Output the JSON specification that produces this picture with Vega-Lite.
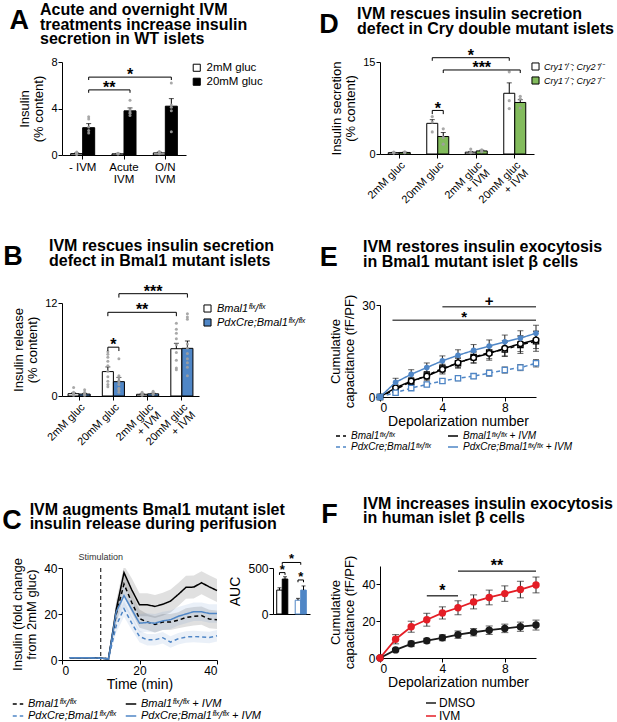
{
"$schema": "https://vega.github.io/schema/vega-lite/v6.json",
"background": "white",
"padding": {"left": 2, "top": 2, "right": 0, "bottom": 0},
"config": {
  "font": "Liberation Sans",
  "view": {"stroke": null},
  "axis": {"grid": false, "domainColor": "#000", "tickColor": "#000", "labelColor": "#000", "titleColor": "#000", "labelFont": "Liberation Sans", "titleFont": "Liberation Sans", "labelFontSize": 11, "titleFontSize": 13, "titleFontWeight": "normal", "tickSize": 4, "labelPadding": 1, "titlePadding": 5, "titleLineHeight": 14},
  "legend": {"labelFont": "Liberation Sans", "labelFontSize": 11, "labelColor": "#000"},
  "title": {"font": "Liberation Sans", "fontSize": 16, "fontWeight": "bold", "color": "#000", "anchor": "start", "lineHeight": 14.5},
  "text": {"font": "Liberation Sans"}
},
"datasets": {
  "aBars": [
    {"cond":"- IVM","grp":"2mM gluc","mean":0.12,"hi":0.18},
    {"cond":"- IVM","grp":"20mM gluc","mean":2.35,"hi":2.7},
    {"cond":"Acute|IVM","grp":"2mM gluc","mean":0.1,"hi":0.14},
    {"cond":"Acute|IVM","grp":"20mM gluc","mean":3.8,"hi":4.05},
    {"cond":"O/N|IVM","grp":"2mM gluc","mean":0.18,"hi":0.25},
    {"cond":"O/N|IVM","grp":"20mM gluc","mean":4.2,"hi":4.85}
  ],
  "aDots": [
    {"cond":"- IVM","grp":"2mM gluc","v":0.05},{"cond":"- IVM","grp":"2mM gluc","v":0.1},{"cond":"- IVM","grp":"2mM gluc","v":0.15},{"cond":"- IVM","grp":"2mM gluc","v":0.2},{"cond":"- IVM","grp":"2mM gluc","v":0.25},
    {"cond":"- IVM","grp":"20mM gluc","v":3.3},{"cond":"- IVM","grp":"20mM gluc","v":3.1},{"cond":"- IVM","grp":"20mM gluc","v":2.4},{"cond":"- IVM","grp":"20mM gluc","v":2.1},{"cond":"- IVM","grp":"20mM gluc","v":1.9},
    {"cond":"Acute|IVM","grp":"2mM gluc","v":0.08},{"cond":"Acute|IVM","grp":"2mM gluc","v":0.1},{"cond":"Acute|IVM","grp":"2mM gluc","v":0.12},{"cond":"Acute|IVM","grp":"2mM gluc","v":0.14},
    {"cond":"Acute|IVM","grp":"20mM gluc","v":4.7},{"cond":"Acute|IVM","grp":"20mM gluc","v":3.9},{"cond":"Acute|IVM","grp":"20mM gluc","v":3.7},{"cond":"Acute|IVM","grp":"20mM gluc","v":3.6},{"cond":"Acute|IVM","grp":"20mM gluc","v":3.4},
    {"cond":"O/N|IVM","grp":"2mM gluc","v":0.1},{"cond":"O/N|IVM","grp":"2mM gluc","v":0.15},{"cond":"O/N|IVM","grp":"2mM gluc","v":0.2},{"cond":"O/N|IVM","grp":"2mM gluc","v":0.3},
    {"cond":"O/N|IVM","grp":"20mM gluc","v":6.2},{"cond":"O/N|IVM","grp":"20mM gluc","v":4.3},{"cond":"O/N|IVM","grp":"20mM gluc","v":4.1},{"cond":"O/N|IVM","grp":"20mM gluc","v":3.8},{"cond":"O/N|IVM","grp":"20mM gluc","v":2.0}
  ],
  "aSig": [
    {"id":"s1","cond":"- IVM","grp":"20mM gluc","y":5.35,"ord":0},{"id":"s1","cond":"- IVM","grp":"20mM gluc","y":5.6,"ord":1},{"id":"s1","cond":"Acute|IVM","grp":"20mM gluc","y":5.6,"ord":2},{"id":"s1","cond":"Acute|IVM","grp":"20mM gluc","y":5.35,"ord":3},
    {"id":"s2","cond":"- IVM","grp":"20mM gluc","y":6.45,"ord":0},{"id":"s2","cond":"- IVM","grp":"20mM gluc","y":6.7,"ord":1},{"id":"s2","cond":"O/N|IVM","grp":"20mM gluc","y":6.7,"ord":2},{"id":"s2","cond":"O/N|IVM","grp":"20mM gluc","y":6.45,"ord":3}
  ],
  "aStarOff": [{"cond":"Acute|IVM","grp":"20mM gluc","y":6.45,"label":"*"}],
  "aStarBand": [{"cond":"Acute|IVM","y":5.35,"label":"**"}],
  "bBars": [
    {"cond":"2mM gluc","grp":"Bmal1ᶠˡˣ/ᶠˡˣ","mean":0.3,"hi":0.4},
    {"cond":"2mM gluc","grp":"PdxCre;Bmal1ᶠˡˣ/ᶠˡˣ","mean":0.25,"hi":0.33},
    {"cond":"20mM gluc","grp":"Bmal1ᶠˡˣ/ᶠˡˣ","mean":3.15,"hi":3.75},
    {"cond":"20mM gluc","grp":"PdxCre;Bmal1ᶠˡˣ/ᶠˡˣ","mean":1.85,"hi":2.4},
    {"cond":"2mM gluc|+ IVM","grp":"Bmal1ᶠˡˣ/ᶠˡˣ","mean":0.22,"hi":0.28},
    {"cond":"2mM gluc|+ IVM","grp":"PdxCre;Bmal1ᶠˡˣ/ᶠˡˣ","mean":0.28,"hi":0.36},
    {"cond":"20mM gluc|+ IVM","grp":"Bmal1ᶠˡˣ/ᶠˡˣ","mean":6.1,"hi":6.8},
    {"cond":"20mM gluc|+ IVM","grp":"PdxCre;Bmal1ᶠˡˣ/ᶠˡˣ","mean":6.15,"hi":7.1}
  ],
  "bDots": [
    {"cond":"2mM gluc","grp":"Bmal1ᶠˡˣ/ᶠˡˣ","v":1.1},{"cond":"2mM gluc","grp":"Bmal1ᶠˡˣ/ᶠˡˣ","v":0.5},{"cond":"2mM gluc","grp":"Bmal1ᶠˡˣ/ᶠˡˣ","v":0.4},{"cond":"2mM gluc","grp":"Bmal1ᶠˡˣ/ᶠˡˣ","v":0.3},{"cond":"2mM gluc","grp":"Bmal1ᶠˡˣ/ᶠˡˣ","v":0.2},{"cond":"2mM gluc","grp":"Bmal1ᶠˡˣ/ᶠˡˣ","v":0.1},
    {"cond":"2mM gluc","grp":"PdxCre;Bmal1ᶠˡˣ/ᶠˡˣ","v":0.8},{"cond":"2mM gluc","grp":"PdxCre;Bmal1ᶠˡˣ/ᶠˡˣ","v":0.5},{"cond":"2mM gluc","grp":"PdxCre;Bmal1ᶠˡˣ/ᶠˡˣ","v":0.3},{"cond":"2mM gluc","grp":"PdxCre;Bmal1ᶠˡˣ/ᶠˡˣ","v":0.2},{"cond":"2mM gluc","grp":"PdxCre;Bmal1ᶠˡˣ/ᶠˡˣ","v":0.1},
    {"cond":"20mM gluc","grp":"Bmal1ᶠˡˣ/ᶠˡˣ","v":5.7},{"cond":"20mM gluc","grp":"Bmal1ᶠˡˣ/ᶠˡˣ","v":5.4},{"cond":"20mM gluc","grp":"Bmal1ᶠˡˣ/ᶠˡˣ","v":5.0},{"cond":"20mM gluc","grp":"Bmal1ᶠˡˣ/ᶠˡˣ","v":4.5},{"cond":"20mM gluc","grp":"Bmal1ᶠˡˣ/ᶠˡˣ","v":3.9},{"cond":"20mM gluc","grp":"Bmal1ᶠˡˣ/ᶠˡˣ","v":3.2},{"cond":"20mM gluc","grp":"Bmal1ᶠˡˣ/ᶠˡˣ","v":2.5},{"cond":"20mM gluc","grp":"Bmal1ᶠˡˣ/ᶠˡˣ","v":1.9},{"cond":"20mM gluc","grp":"Bmal1ᶠˡˣ/ᶠˡˣ","v":1.5},{"cond":"20mM gluc","grp":"Bmal1ᶠˡˣ/ᶠˡˣ","v":1.2},
    {"cond":"20mM gluc","grp":"PdxCre;Bmal1ᶠˡˣ/ᶠˡˣ","v":4.8},{"cond":"20mM gluc","grp":"PdxCre;Bmal1ᶠˡˣ/ᶠˡˣ","v":2.6},{"cond":"20mM gluc","grp":"PdxCre;Bmal1ᶠˡˣ/ᶠˡˣ","v":2.4},{"cond":"20mM gluc","grp":"PdxCre;Bmal1ᶠˡˣ/ᶠˡˣ","v":2.0},{"cond":"20mM gluc","grp":"PdxCre;Bmal1ᶠˡˣ/ᶠˡˣ","v":1.8},{"cond":"20mM gluc","grp":"PdxCre;Bmal1ᶠˡˣ/ᶠˡˣ","v":1.5},{"cond":"20mM gluc","grp":"PdxCre;Bmal1ᶠˡˣ/ᶠˡˣ","v":1.0},{"cond":"20mM gluc","grp":"PdxCre;Bmal1ᶠˡˣ/ᶠˡˣ","v":0.8},{"cond":"20mM gluc","grp":"PdxCre;Bmal1ᶠˡˣ/ᶠˡˣ","v":0.5},
    {"cond":"2mM gluc|+ IVM","grp":"Bmal1ᶠˡˣ/ᶠˡˣ","v":0.5},{"cond":"2mM gluc|+ IVM","grp":"Bmal1ᶠˡˣ/ᶠˡˣ","v":0.3},{"cond":"2mM gluc|+ IVM","grp":"Bmal1ᶠˡˣ/ᶠˡˣ","v":0.2},{"cond":"2mM gluc|+ IVM","grp":"Bmal1ᶠˡˣ/ᶠˡˣ","v":0.1},
    {"cond":"2mM gluc|+ IVM","grp":"PdxCre;Bmal1ᶠˡˣ/ᶠˡˣ","v":0.6},{"cond":"2mM gluc|+ IVM","grp":"PdxCre;Bmal1ᶠˡˣ/ᶠˡˣ","v":0.4},{"cond":"2mM gluc|+ IVM","grp":"PdxCre;Bmal1ᶠˡˣ/ᶠˡˣ","v":0.3},{"cond":"2mM gluc|+ IVM","grp":"PdxCre;Bmal1ᶠˡˣ/ᶠˡˣ","v":0.2},
    {"cond":"20mM gluc|+ IVM","grp":"Bmal1ᶠˡˣ/ᶠˡˣ","v":9.4},{"cond":"20mM gluc|+ IVM","grp":"Bmal1ᶠˡˣ/ᶠˡˣ","v":8.6},{"cond":"20mM gluc|+ IVM","grp":"Bmal1ᶠˡˣ/ᶠˡˣ","v":8.1},{"cond":"20mM gluc|+ IVM","grp":"Bmal1ᶠˡˣ/ᶠˡˣ","v":7.4},{"cond":"20mM gluc|+ IVM","grp":"Bmal1ᶠˡˣ/ᶠˡˣ","v":6.6},{"cond":"20mM gluc|+ IVM","grp":"Bmal1ᶠˡˣ/ᶠˡˣ","v":5.6},{"cond":"20mM gluc|+ IVM","grp":"Bmal1ᶠˡˣ/ᶠˡˣ","v":4.6},{"cond":"20mM gluc|+ IVM","grp":"Bmal1ᶠˡˣ/ᶠˡˣ","v":3.6},{"cond":"20mM gluc|+ IVM","grp":"Bmal1ᶠˡˣ/ᶠˡˣ","v":3.4},
    {"cond":"20mM gluc|+ IVM","grp":"PdxCre;Bmal1ᶠˡˣ/ᶠˡˣ","v":10.6},{"cond":"20mM gluc|+ IVM","grp":"PdxCre;Bmal1ᶠˡˣ/ᶠˡˣ","v":10.2},{"cond":"20mM gluc|+ IVM","grp":"PdxCre;Bmal1ᶠˡˣ/ᶠˡˣ","v":9.9},{"cond":"20mM gluc|+ IVM","grp":"PdxCre;Bmal1ᶠˡˣ/ᶠˡˣ","v":6.7},{"cond":"20mM gluc|+ IVM","grp":"PdxCre;Bmal1ᶠˡˣ/ᶠˡˣ","v":6.2},{"cond":"20mM gluc|+ IVM","grp":"PdxCre;Bmal1ᶠˡˣ/ᶠˡˣ","v":5.5},{"cond":"20mM gluc|+ IVM","grp":"PdxCre;Bmal1ᶠˡˣ/ᶠˡˣ","v":4.8},{"cond":"20mM gluc|+ IVM","grp":"PdxCre;Bmal1ᶠˡˣ/ᶠˡˣ","v":4.3},{"cond":"20mM gluc|+ IVM","grp":"PdxCre;Bmal1ᶠˡˣ/ᶠˡˣ","v":3.7},{"cond":"20mM gluc|+ IVM","grp":"PdxCre;Bmal1ᶠˡˣ/ᶠˡˣ","v":2.6}
  ],
  "bSig": [
    {"id":"b1","cond":"20mM gluc","grp":"Bmal1ᶠˡˣ/ᶠˡˣ","y":5.8,"ord":0},{"id":"b1","cond":"20mM gluc","grp":"Bmal1ᶠˡˣ/ᶠˡˣ","y":6.3,"ord":1},{"id":"b1","cond":"20mM gluc","grp":"PdxCre;Bmal1ᶠˡˣ/ᶠˡˣ","y":6.3,"ord":2},{"id":"b1","cond":"20mM gluc","grp":"PdxCre;Bmal1ᶠˡˣ/ᶠˡˣ","y":5.8,"ord":3},
    {"id":"b2","cond":"20mM gluc","grp":"Bmal1ᶠˡˣ/ᶠˡˣ","y":10.3,"ord":0},{"id":"b2","cond":"20mM gluc","grp":"Bmal1ᶠˡˣ/ᶠˡˣ","y":10.8,"ord":1},{"id":"b2","cond":"20mM gluc|+ IVM","grp":"Bmal1ᶠˡˣ/ᶠˡˣ","y":10.8,"ord":2},{"id":"b2","cond":"20mM gluc|+ IVM","grp":"Bmal1ᶠˡˣ/ᶠˡˣ","y":10.3,"ord":3},
    {"id":"b3","cond":"20mM gluc","grp":"PdxCre;Bmal1ᶠˡˣ/ᶠˡˣ","y":12.7,"ord":0},{"id":"b3","cond":"20mM gluc","grp":"PdxCre;Bmal1ᶠˡˣ/ᶠˡˣ","y":13.2,"ord":1},{"id":"b3","cond":"20mM gluc|+ IVM","grp":"PdxCre;Bmal1ᶠˡˣ/ᶠˡˣ","y":13.2,"ord":2},{"id":"b3","cond":"20mM gluc|+ IVM","grp":"PdxCre;Bmal1ᶠˡˣ/ᶠˡˣ","y":12.7,"ord":3}
  ],
  "bStarOff": [
    {"cond":"2mM gluc|+ IVM","grp":"Bmal1ᶠˡˣ/ᶠˡˣ","y":10.4,"label":"**"},
    {"cond":"2mM gluc|+ IVM","grp":"PdxCre;Bmal1ᶠˡˣ/ᶠˡˣ","y":12.8,"label":"***"}
  ],
  "bStarMid": [{"cond":"20mM gluc","y":5.9,"label":"*"}],
  "dBars": [
    {"cond":"2mM gluc","grp":"Cry1⁺/⁻; Cry2⁺/⁻","mean":0.22,"hi":0.27},
    {"cond":"2mM gluc","grp":"Cry1⁻/⁻; Cry2⁻/⁻","mean":0.25,"hi":0.3},
    {"cond":"20mM gluc","grp":"Cry1⁺/⁻; Cry2⁺/⁻","mean":5.0,"hi":5.6},
    {"cond":"20mM gluc","grp":"Cry1⁻/⁻; Cry2⁻/⁻","mean":2.85,"hi":3.5},
    {"cond":"2mM gluc|+ IVM","grp":"Cry1⁺/⁻; Cry2⁺/⁻","mean":0.3,"hi":0.42},
    {"cond":"2mM gluc|+ IVM","grp":"Cry1⁻/⁻; Cry2⁻/⁻","mean":0.5,"hi":0.62},
    {"cond":"20mM gluc|+ IVM","grp":"Cry1⁺/⁻; Cry2⁺/⁻","mean":9.9,"hi":11.6},
    {"cond":"20mM gluc|+ IVM","grp":"Cry1⁻/⁻; Cry2⁻/⁻","mean":8.4,"hi":8.85}
  ],
  "dDots": [
    {"cond":"2mM gluc","grp":"Cry1⁺/⁻; Cry2⁺/⁻","v":0.3},{"cond":"2mM gluc","grp":"Cry1⁺/⁻; Cry2⁺/⁻","v":0.2},{"cond":"2mM gluc","grp":"Cry1⁺/⁻; Cry2⁺/⁻","v":0.15},
    {"cond":"2mM gluc","grp":"Cry1⁻/⁻; Cry2⁻/⁻","v":0.35},{"cond":"2mM gluc","grp":"Cry1⁻/⁻; Cry2⁻/⁻","v":0.25},{"cond":"2mM gluc","grp":"Cry1⁻/⁻; Cry2⁻/⁻","v":0.2},
    {"cond":"20mM gluc","grp":"Cry1⁺/⁻; Cry2⁺/⁻","v":6.1},{"cond":"20mM gluc","grp":"Cry1⁺/⁻; Cry2⁺/⁻","v":5.2},{"cond":"20mM gluc","grp":"Cry1⁺/⁻; Cry2⁺/⁻","v":3.6},
    {"cond":"20mM gluc","grp":"Cry1⁻/⁻; Cry2⁻/⁻","v":4.1},{"cond":"20mM gluc","grp":"Cry1⁻/⁻; Cry2⁻/⁻","v":2.7},{"cond":"20mM gluc","grp":"Cry1⁻/⁻; Cry2⁻/⁻","v":1.6},
    {"cond":"2mM gluc|+ IVM","grp":"Cry1⁺/⁻; Cry2⁺/⁻","v":0.8},{"cond":"2mM gluc|+ IVM","grp":"Cry1⁺/⁻; Cry2⁺/⁻","v":0.3},{"cond":"2mM gluc|+ IVM","grp":"Cry1⁺/⁻; Cry2⁺/⁻","v":0.2},
    {"cond":"2mM gluc|+ IVM","grp":"Cry1⁻/⁻; Cry2⁻/⁻","v":0.7},{"cond":"2mM gluc|+ IVM","grp":"Cry1⁻/⁻; Cry2⁻/⁻","v":0.5},{"cond":"2mM gluc|+ IVM","grp":"Cry1⁻/⁻; Cry2⁻/⁻","v":0.4},
    {"cond":"20mM gluc|+ IVM","grp":"Cry1⁺/⁻; Cry2⁺/⁻","v":13.4},{"cond":"20mM gluc|+ IVM","grp":"Cry1⁺/⁻; Cry2⁺/⁻","v":8.7},{"cond":"20mM gluc|+ IVM","grp":"Cry1⁺/⁻; Cry2⁺/⁻","v":7.4},
    {"cond":"20mM gluc|+ IVM","grp":"Cry1⁻/⁻; Cry2⁻/⁻","v":9.4},{"cond":"20mM gluc|+ IVM","grp":"Cry1⁻/⁻; Cry2⁻/⁻","v":9.0},{"cond":"20mM gluc|+ IVM","grp":"Cry1⁻/⁻; Cry2⁻/⁻","v":7.5}
  ],
  "dSig": [
    {"id":"d1","cond":"20mM gluc","grp":"Cry1⁺/⁻; Cry2⁺/⁻","y":6.5,"ord":0},{"id":"d1","cond":"20mM gluc","grp":"Cry1⁺/⁻; Cry2⁺/⁻","y":7.1,"ord":1},{"id":"d1","cond":"20mM gluc","grp":"Cry1⁻/⁻; Cry2⁻/⁻","y":7.1,"ord":2},{"id":"d1","cond":"20mM gluc","grp":"Cry1⁻/⁻; Cry2⁻/⁻","y":6.5,"ord":3},
    {"id":"d2","cond":"20mM gluc","grp":"Cry1⁺/⁻; Cry2⁺/⁻","y":15.2,"ord":0},{"id":"d2","cond":"20mM gluc","grp":"Cry1⁺/⁻; Cry2⁺/⁻","y":15.7,"ord":1},{"id":"d2","cond":"20mM gluc|+ IVM","grp":"Cry1⁺/⁻; Cry2⁺/⁻","y":15.7,"ord":2},{"id":"d2","cond":"20mM gluc|+ IVM","grp":"Cry1⁺/⁻; Cry2⁺/⁻","y":15.2,"ord":3},
    {"id":"d3","cond":"20mM gluc","grp":"Cry1⁻/⁻; Cry2⁻/⁻","y":13.2,"ord":0},{"id":"d3","cond":"20mM gluc","grp":"Cry1⁻/⁻; Cry2⁻/⁻","y":13.7,"ord":1},{"id":"d3","cond":"20mM gluc|+ IVM","grp":"Cry1⁻/⁻; Cry2⁻/⁻","y":13.7,"ord":2},{"id":"d3","cond":"20mM gluc|+ IVM","grp":"Cry1⁻/⁻; Cry2⁻/⁻","y":13.2,"ord":3}
  ],
  "dStarOff": [
    {"cond":"2mM gluc|+ IVM","grp":"Cry1⁺/⁻; Cry2⁺/⁻","y":15.2,"label":"*"},
    {"cond":"2mM gluc|+ IVM","grp":"Cry1⁻/⁻; Cry2⁻/⁻","y":13.2,"label":"***"}
  ],
  "dStarMid": [{"cond":"20mM gluc","y":6.6,"label":"*"}],
  "cSeries": [
    {"t":2,"s":"B","v":1.0,"lo":0.7,"hi":1.3},{"t":4,"s":"B","v":1.0,"lo":0.7,"hi":1.3},{"t":6,"s":"B","v":1.0,"lo":0.7,"hi":1.3},{"t":8,"s":"B","v":0.9,"lo":0.6,"hi":1.2},{"t":10,"s":"B","v":0.8,"lo":0.5,"hi":1.1},{"t":12,"s":"B","v":0.5,"lo":0.2,"hi":0.8},{"t":14,"s":"B","v":20,"lo":16,"hi":24},{"t":16,"s":"B","v":33,"lo":28,"hi":38},{"t":18,"s":"B","v":25,"lo":20.5,"hi":29.5},{"t":20,"s":"B","v":18,"lo":14,"hi":22},{"t":22,"s":"B","v":16.5,"lo":13,"hi":20},{"t":24,"s":"B","v":15.5,"lo":12,"hi":19},{"t":26,"s":"B","v":16.5,"lo":13,"hi":20},{"t":28,"s":"B","v":16.5,"lo":13,"hi":20},{"t":30,"s":"B","v":17.3,"lo":13.8,"hi":20.8},{"t":32,"s":"B","v":18.5,"lo":14.5,"hi":22.5},{"t":34,"s":"B","v":19,"lo":15,"hi":23},{"t":36,"s":"B","v":19.3,"lo":15.3,"hi":23.3},{"t":38,"s":"B","v":17.8,"lo":13.8,"hi":21.8},{"t":40,"s":"B","v":17.5,"lo":13.5,"hi":21.5},
    {"t":2,"s":"BI","v":1.0,"lo":0.7,"hi":1.3},{"t":4,"s":"BI","v":1.0,"lo":0.7,"hi":1.3},{"t":6,"s":"BI","v":1.0,"lo":0.7,"hi":1.3},{"t":8,"s":"BI","v":1.0,"lo":0.7,"hi":1.3},{"t":10,"s":"BI","v":0.8,"lo":0.5,"hi":1.1},{"t":12,"s":"BI","v":0.5,"lo":0.2,"hi":0.8},{"t":14,"s":"BI","v":22,"lo":18,"hi":26},{"t":16,"s":"BI","v":38,"lo":33,"hi":41},{"t":18,"s":"BI","v":30.5,"lo":25.5,"hi":35.5},{"t":20,"s":"BI","v":24,"lo":19,"hi":29},{"t":22,"s":"BI","v":24,"lo":19,"hi":29},{"t":24,"s":"BI","v":23.3,"lo":18.3,"hi":28.3},{"t":26,"s":"BI","v":24.2,"lo":19.2,"hi":29.2},{"t":28,"s":"BI","v":25.6,"lo":20.6,"hi":30.6},{"t":30,"s":"BI","v":28.5,"lo":23.5,"hi":33.5},{"t":32,"s":"BI","v":31.6,"lo":26.6,"hi":36.6},{"t":34,"s":"BI","v":31.7,"lo":26.7,"hi":36.7},{"t":36,"s":"BI","v":33.6,"lo":28.6,"hi":38.6},{"t":38,"s":"BI","v":31.8,"lo":26.8,"hi":36.8},{"t":40,"s":"BI","v":30.2,"lo":25.2,"hi":35.2},
    {"t":2,"s":"P","v":1.0,"lo":0.7,"hi":1.3},{"t":4,"s":"P","v":1.0,"lo":0.7,"hi":1.3},{"t":6,"s":"P","v":1.0,"lo":0.7,"hi":1.3},{"t":8,"s":"P","v":0.9,"lo":0.6,"hi":1.2},{"t":10,"s":"P","v":0.8,"lo":0.5,"hi":1.1},{"t":12,"s":"P","v":0.5,"lo":0.2,"hi":0.8},{"t":14,"s":"P","v":15,"lo":12,"hi":18},{"t":16,"s":"P","v":22.3,"lo":18.8,"hi":25.8},{"t":18,"s":"P","v":16,"lo":13,"hi":19},{"t":20,"s":"P","v":10.2,"lo":7.7,"hi":12.7},{"t":22,"s":"P","v":8.8,"lo":6.3,"hi":11.3},{"t":24,"s":"P","v":8.8,"lo":6.3,"hi":11.3},{"t":26,"s":"P","v":9.7,"lo":7.2,"hi":12.2},{"t":28,"s":"P","v":7.8,"lo":5.3,"hi":10.3},{"t":30,"s":"P","v":9.2,"lo":6.7,"hi":11.7},{"t":32,"s":"P","v":10,"lo":7.5,"hi":12.5},{"t":34,"s":"P","v":10.2,"lo":7.7,"hi":12.7},{"t":36,"s":"P","v":10,"lo":7.5,"hi":12.5},{"t":38,"s":"P","v":9.8,"lo":7.3,"hi":12.3},{"t":40,"s":"P","v":10.5,"lo":8,"hi":13},
    {"t":2,"s":"PI","v":1.0,"lo":0.7,"hi":1.3},{"t":4,"s":"PI","v":1.0,"lo":0.7,"hi":1.3},{"t":6,"s":"PI","v":1.0,"lo":0.7,"hi":1.3},{"t":8,"s":"PI","v":0.9,"lo":0.6,"hi":1.2},{"t":10,"s":"PI","v":0.8,"lo":0.5,"hi":1.1},{"t":12,"s":"PI","v":0.5,"lo":0.2,"hi":0.8},{"t":14,"s":"PI","v":21,"lo":17,"hi":25},{"t":16,"s":"PI","v":28,"lo":23.5,"hi":32.5},{"t":18,"s":"PI","v":22,"lo":18,"hi":26},{"t":20,"s":"PI","v":16,"lo":12,"hi":20},{"t":22,"s":"PI","v":16.3,"lo":12.3,"hi":20.3},{"t":24,"s":"PI","v":16,"lo":12,"hi":20},{"t":26,"s":"PI","v":17,"lo":13,"hi":21},{"t":28,"s":"PI","v":17.5,"lo":13.5,"hi":21.5},{"t":30,"s":"PI","v":19,"lo":15,"hi":23},{"t":32,"s":"PI","v":20,"lo":16,"hi":24},{"t":34,"s":"PI","v":21,"lo":17,"hi":25},{"t":36,"s":"PI","v":21,"lo":17,"hi":25},{"t":38,"s":"PI","v":20.2,"lo":16.2,"hi":24.2},{"t":40,"s":"PI","v":20.2,"lo":16.2,"hi":24.2}
  ],
  "cStim": [{"t":10,"y":42.5,"label":"Stimulation"}],
  "aucBars": [
    {"geno":"Bmal1","trt":"-IVM","s":"B","mean":260,"hi":285},
    {"geno":"Bmal1","trt":"+IVM","s":"BI","mean":380,"hi":405},
    {"geno":"PdxCre","trt":"-IVM","s":"P","mean":150,"hi":170},
    {"geno":"PdxCre","trt":"+IVM","s":"PI","mean":260,"hi":305}
  ],
  "aucSig": [
    {"id":"g1","geno":"Bmal1","trt":"-IVM","y":425,"ord":0},{"id":"g1","geno":"Bmal1","trt":"-IVM","y":450,"ord":1},{"id":"g1","geno":"Bmal1","trt":"+IVM","y":450,"ord":2},{"id":"g1","geno":"Bmal1","trt":"+IVM","y":425,"ord":3},
    {"id":"g2","geno":"PdxCre","trt":"-IVM","y":345,"ord":0},{"id":"g2","geno":"PdxCre","trt":"-IVM","y":370,"ord":1},{"id":"g2","geno":"PdxCre","trt":"+IVM","y":370,"ord":2},{"id":"g2","geno":"PdxCre","trt":"+IVM","y":345,"ord":3}
  ],
  "aucTop": [
    {"geno":"Bmal1","y":535,"ord":0},{"geno":"Bmal1","y":560,"ord":1},{"geno":"PdxCre","y":560,"ord":2},{"geno":"PdxCre","y":535,"ord":3}
  ],
  "aucStarMid": [{"geno":"Bmal1","y":440,"label":"*"},{"geno":"PdxCre","y":360,"label":"*"}],
  "aucStarTop": [{"geno":"Bmal1","y":550,"label":"*"}],
  "eSeries": [
    {"x":0,"s":"B","v":0,"lo":0,"hi":0},{"x":1,"s":"B","v":2.5,"lo":1.5,"hi":3.5},{"x":2,"s":"B","v":5.0,"lo":3.8,"hi":6.2},{"x":3,"s":"B","v":7.0,"lo":5.7,"hi":8.3},{"x":4,"s":"B","v":9.3,"lo":7.9,"hi":10.7},{"x":5,"s":"B","v":11.0,"lo":9.4,"hi":12.6},{"x":6,"s":"B","v":13.0,"lo":11.2,"hi":14.8},{"x":7,"s":"B","v":14.5,"lo":12.5,"hi":16.5},{"x":8,"s":"B","v":15.5,"lo":13.2,"hi":17.8},{"x":9,"s":"B","v":17.0,"lo":14.2,"hi":19.8},{"x":10,"s":"B","v":18.2,"lo":14.9,"hi":21.5},
    {"x":0,"s":"BI","v":0,"lo":0,"hi":0},{"x":1,"s":"BI","v":3.0,"lo":2.0,"hi":4.0},{"x":2,"s":"BI","v":5.2,"lo":4.0,"hi":6.4},{"x":3,"s":"BI","v":6.8,"lo":5.3,"hi":8.3},{"x":4,"s":"BI","v":9.0,"lo":7.5,"hi":10.5},{"x":5,"s":"BI","v":11.2,"lo":9.6,"hi":12.8},{"x":6,"s":"BI","v":12.8,"lo":11.0,"hi":14.6},{"x":7,"s":"BI","v":14.2,"lo":12.0,"hi":16.4},{"x":8,"s":"BI","v":15.9,"lo":13.4,"hi":18.4},{"x":9,"s":"BI","v":17.4,"lo":14.8,"hi":20.0},{"x":10,"s":"BI","v":18.6,"lo":15.8,"hi":21.4},
    {"x":0,"s":"P","v":0,"lo":0,"hi":0},{"x":1,"s":"P","v":1.4,"lo":0.9,"hi":1.9},{"x":2,"s":"P","v":2.9,"lo":2.3,"hi":3.5},{"x":3,"s":"P","v":4.1,"lo":3.4,"hi":4.8},{"x":4,"s":"P","v":5.2,"lo":4.5,"hi":5.9},{"x":5,"s":"P","v":6.1,"lo":5.3,"hi":6.9},{"x":6,"s":"P","v":6.8,"lo":6.0,"hi":7.6},{"x":7,"s":"P","v":7.8,"lo":6.8,"hi":8.8},{"x":8,"s":"P","v":8.8,"lo":7.8,"hi":9.8},{"x":9,"s":"P","v":9.6,"lo":8.6,"hi":10.6},{"x":10,"s":"P","v":11.0,"lo":9.8,"hi":12.2},
    {"x":0,"s":"PI","v":0,"lo":0,"hi":0},{"x":1,"s":"PI","v":4.8,"lo":3.5,"hi":6.1},{"x":2,"s":"PI","v":7.4,"lo":5.9,"hi":8.9},{"x":3,"s":"PI","v":9.6,"lo":8.1,"hi":11.1},{"x":4,"s":"PI","v":11.8,"lo":10.2,"hi":13.4},{"x":5,"s":"PI","v":13.6,"lo":11.8,"hi":15.4},{"x":6,"s":"PI","v":15.2,"lo":13.3,"hi":17.1},{"x":7,"s":"PI","v":16.6,"lo":14.6,"hi":18.6},{"x":8,"s":"PI","v":18.0,"lo":15.8,"hi":20.2},{"x":9,"s":"PI","v":19.2,"lo":16.8,"hi":21.6},{"x":10,"s":"PI","v":20.8,"lo":18.2,"hi":23.4}
  ],
  "eSig": [{"x1":4,"x2":10,"y":29.4,"lx":7,"ly":29.8,"label":"+"},{"x1":0.8,"x2":10,"y":25.0,"lx":5.4,"ly":24.6,"label":"*"}],
  "fSeries": [
    {"x":0,"s":"DMSO","v":0,"lo":0,"hi":0},{"x":1,"s":"DMSO","v":4.4,"lo":3.6,"hi":5.2},{"x":2,"s":"DMSO","v":7.7,"lo":6.2,"hi":9.2},{"x":3,"s":"DMSO","v":9.4,"lo":8.1,"hi":10.7},{"x":4,"s":"DMSO","v":11.0,"lo":9.4,"hi":12.6},{"x":5,"s":"DMSO","v":12.7,"lo":10.7,"hi":14.7},{"x":6,"s":"DMSO","v":14.0,"lo":12.0,"hi":16.0},{"x":7,"s":"DMSO","v":15.1,"lo":12.8,"hi":17.4},{"x":8,"s":"DMSO","v":16.1,"lo":13.8,"hi":18.4},{"x":9,"s":"DMSO","v":17.0,"lo":14.5,"hi":19.5},{"x":10,"s":"DMSO","v":17.9,"lo":15.2,"hi":20.6},
    {"x":0,"s":"IVM","v":0,"lo":0,"hi":0},{"x":1,"s":"IVM","v":10.2,"lo":7.7,"hi":12.7},{"x":2,"s":"IVM","v":17.0,"lo":14.0,"hi":20.0},{"x":3,"s":"IVM","v":20.8,"lo":17.3,"hi":24.3},{"x":4,"s":"IVM","v":24.5,"lo":21.2,"hi":27.8},{"x":5,"s":"IVM","v":27.3,"lo":23.5,"hi":31.1},{"x":6,"s":"IVM","v":30.5,"lo":26.7,"hi":34.3},{"x":7,"s":"IVM","v":32.9,"lo":28.9,"hi":36.9},{"x":8,"s":"IVM","v":35.0,"lo":30.8,"hi":39.2},{"x":9,"s":"IVM","v":37.2,"lo":32.7,"hi":41.7},{"x":10,"s":"IVM","v":39.7,"lo":35.4,"hi":44.0}
  ],
  "fSig": [{"x1":3,"x2":5,"y":33.8,"lx":4,"ly":33.8,"label":"*"},{"x1":5,"x2":10,"y":47.2,"lx":7.5,"ly":47.2,"label":"**"}]
},
"hconcat": [
 {
  "vconcat": [
   {
    "vconcat": [
     {
      "title": {"text": "A", "orient": "left", "anchor": "end", "angle": 0, "align": "left", "baseline": "top", "fontSize": 27, "offset": -10, "dy": 6},
      "vconcat": [{
        "title": {"text": ["Acute and overnight IVM", "treatments increase insulin", "secretion in WT islets"], "frame": "group", "dx": -22, "offset": 9},
        "width": 124, "height": 93,
        "layer": [
          {"data": {"name": "aBars"}, "mark": {"type": "bar", "stroke": "#000", "strokeWidth": 1},
           "encoding": {
             "x": {"field": "cond", "type": "nominal", "scale": {"domain": ["- IVM", "Acute|IVM", "O/N|IVM"], "paddingInner": 0, "paddingOuter": 0}, "axis": {"title": null, "labelAngle": 0, "labelExpr": "split(datum.label,'|')", "labelLineHeight": 12, "labelPadding": 2, "labelFontSize": 11.5}},
             "xOffset": {"field": "grp", "type": "nominal", "scale": {"domain": ["2mM gluc", "20mM gluc"], "paddingOuter": 0.72, "paddingInner": 0}},
             "y": {"field": "mean", "type": "quantitative", "scale": {"domain": [0, 8], "nice": false}, "axis": {"values": [0, 2, 4, 6, 8], "title": ["Insulin", "(% content)"]}},
             "fill": {"field": "grp", "type": "nominal", "scale": {"domain": ["2mM gluc", "20mM gluc"], "range": ["#ffffff", "#000000"]}, "legend": {"title": null, "symbolType": "square", "symbolStrokeColor": "#000", "symbolStrokeWidth": 1, "symbolSize": 50, "offset": 5, "rowPadding": 1, "labelFontSize": 11.5}}
           }},
          {"data": {"name": "aBars"}, "mark": {"type": "rule", "color": "#000", "strokeWidth": 1},
           "encoding": {"x": {"field": "cond", "type": "nominal"}, "xOffset": {"field": "grp", "type": "nominal"}, "y": {"field": "mean", "type": "quantitative"}, "y2": {"field": "hi"}}},
          {"data": {"name": "aBars"}, "mark": {"type": "tick", "color": "#000", "thickness": 1, "size": 5, "orient": "horizontal"},
           "encoding": {"x": {"field": "cond", "type": "nominal"}, "xOffset": {"field": "grp", "type": "nominal"}, "y": {"field": "hi", "type": "quantitative"}}},
          {"data": {"name": "aDots"}, "mark": {"type": "point", "filled": true, "size": 9, "color": "#a0a0a0", "opacity": 0.9},
           "encoding": {"x": {"field": "cond", "type": "nominal"}, "xOffset": {"field": "grp", "type": "nominal"}, "y": {"field": "v", "type": "quantitative"}}},
          {"data": {"name": "aSig"}, "mark": {"type": "line", "color": "#000", "strokeWidth": 1},
           "encoding": {"x": {"field": "cond", "type": "nominal"}, "xOffset": {"field": "grp", "type": "nominal"}, "y": {"field": "y", "type": "quantitative"}, "detail": {"field": "id"}, "order": {"field": "ord"}}},
          {"data": {"name": "aStarOff"}, "mark": {"type": "text", "fontSize": 16, "fontWeight": "bold", "baseline": "alphabetic", "color": "#000"},
           "encoding": {"x": {"field": "cond", "type": "nominal"}, "xOffset": {"field": "grp", "type": "nominal"}, "y": {"field": "y", "type": "quantitative"}, "text": {"field": "label"}}},
          {"data": {"name": "aStarBand"}, "mark": {"type": "text", "fontSize": 16, "fontWeight": "bold", "baseline": "alphabetic", "color": "#000"},
           "encoding": {"x": {"field": "cond", "type": "nominal", "bandPosition": 0.144}, "y": {"field": "y", "type": "quantitative"}, "text": {"field": "label"}}}
        ]
      }],
      "resolve": {"scale": {"color": "independent", "fill": "independent", "stroke": "independent", "strokeDash": "independent", "shape": "independent", "xOffset": "independent", "size": "independent", "opacity": "independent"}}
     },
     {
      "title": {"text": "B", "orient": "left", "anchor": "end", "angle": 0, "align": "left", "baseline": "top", "fontSize": 27, "offset": -10, "dy": 6},
      "vconcat": [{
        "title": {"text": ["IVM rescues insulin secretion", "defect in Bmal1 mutant islets"], "frame": "group", "dx": -13, "offset": 15},
        "width": 137, "height": 93,
        "layer": [
          {"data": {"name": "bBars"}, "mark": {"type": "bar", "stroke": "#000", "strokeWidth": 1},
           "encoding": {
             "x": {"field": "cond", "type": "nominal", "scale": {"domain": ["2mM gluc", "20mM gluc", "2mM gluc|+ IVM", "20mM gluc|+ IVM"], "paddingInner": 0, "paddingOuter": 0}, "axis": {"title": null, "labelAngle": -45, "labelExpr": "split(datum.label,'|')", "labelLineHeight": 11}},
             "xOffset": {"field": "grp", "type": "nominal", "scale": {"domain": ["Bmal1ᶠˡˣ/ᶠˡˣ", "PdxCre;Bmal1ᶠˡˣ/ᶠˡˣ"], "paddingOuter": 0.55, "paddingInner": 0}},
             "y": {"field": "mean", "type": "quantitative", "scale": {"domain": [0, 12], "nice": false}, "axis": {"values": [0, 4, 8, 12], "title": ["Insulin release", "(% content)"]}},
             "fill": {"field": "grp", "type": "nominal", "scale": {"domain": ["Bmal1ᶠˡˣ/ᶠˡˣ", "PdxCre;Bmal1ᶠˡˣ/ᶠˡˣ"], "range": ["#ffffff", "#4f86c6"]}, "legend": {"title": null, "symbolType": "square", "symbolStrokeColor": "#000", "symbolStrokeWidth": 1, "symbolSize": 50, "offset": 3, "rowPadding": 1, "labelFontStyle": "italic", "labelFontSize": 11}}
           }},
          {"data": {"name": "bBars"}, "mark": {"type": "rule", "color": "#000", "strokeWidth": 1},
           "encoding": {"x": {"field": "cond", "type": "nominal"}, "xOffset": {"field": "grp", "type": "nominal"}, "y": {"field": "mean", "type": "quantitative"}, "y2": {"field": "hi"}}},
          {"data": {"name": "bBars"}, "mark": {"type": "tick", "color": "#000", "thickness": 1, "size": 5, "orient": "horizontal"},
           "encoding": {"x": {"field": "cond", "type": "nominal"}, "xOffset": {"field": "grp", "type": "nominal"}, "y": {"field": "hi", "type": "quantitative"}}},
          {"data": {"name": "bDots"}, "mark": {"type": "point", "filled": true, "size": 9, "color": "#a0a0a0", "opacity": 0.9},
           "encoding": {"x": {"field": "cond", "type": "nominal"}, "xOffset": {"field": "grp", "type": "nominal"}, "y": {"field": "v", "type": "quantitative"}}},
          {"data": {"name": "bSig"}, "mark": {"type": "line", "color": "#000", "strokeWidth": 1},
           "encoding": {"x": {"field": "cond", "type": "nominal"}, "xOffset": {"field": "grp", "type": "nominal"}, "y": {"field": "y", "type": "quantitative"}, "detail": {"field": "id"}, "order": {"field": "ord"}}},
          {"data": {"name": "bStarOff"}, "mark": {"type": "text", "fontSize": 16, "fontWeight": "bold", "baseline": "alphabetic", "color": "#000"},
           "encoding": {"x": {"field": "cond", "type": "nominal"}, "xOffset": {"field": "grp", "type": "nominal"}, "y": {"field": "y", "type": "quantitative"}, "text": {"field": "label"}}},
          {"data": {"name": "bStarMid"}, "mark": {"type": "text", "fontSize": 16, "fontWeight": "bold", "baseline": "alphabetic", "color": "#000"},
           "encoding": {"x": {"field": "cond", "type": "nominal"}, "y": {"field": "y", "type": "quantitative"}, "text": {"field": "label"}}}
        ]
      }],
      "resolve": {"scale": {"color": "independent", "fill": "independent", "stroke": "independent", "strokeDash": "independent", "shape": "independent", "xOffset": "independent", "size": "independent", "opacity": "independent"}}
     }
    ],
    "spacing": 53,
    "resolve": {"scale": {"color": "independent", "fill": "independent", "stroke": "independent", "strokeDash": "independent", "shape": "independent", "xOffset": "independent", "size": "independent", "opacity": "independent"}}
   },
   {
    "title": {"text": "C", "orient": "left", "anchor": "end", "angle": 0, "align": "left", "baseline": "top", "fontSize": 27, "offset": -10, "dy": 6},
    "vconcat": [{
      "title": {"text": ["IVM augments Bmal1 mutant islet", "insulin release during perifusion"], "dx": 18, "offset": 21},
      "hconcat": [
        {
          "width": 155, "height": 92,
          "layer": [
            {"data": {"name": "cSeries"}, "mark": {"type": "area", "opacity": 0.12, "clip": true},
             "encoding": {
               "x": {"field": "t", "type": "quantitative", "scale": {"domain": [0, 40], "nice": false}, "axis": {"values": [0, 10, 20, 30, 40], "title": "Time (min)", "titleFontSize": 14, "titlePadding": 1, "labelFontSize": 12}},
               "y": {"field": "lo", "type": "quantitative", "scale": {"domain": [0, 40], "nice": false}, "axis": {"values": [0, 10, 20, 30, 40], "title": ["Insulin (fold change", "from 2mM gluc)"], "labelFontSize": 12}},
               "y2": {"field": "hi"},
               "fill": {"field": "s", "type": "nominal", "scale": {"domain": ["B", "P", "BI", "PI"], "range": ["#000000", "#4f86c6", "#000000", "#4f86c6"]}, "legend": null}
             }},
            {"data": {"name": "cSeries"}, "mark": {"type": "line", "strokeWidth": 1.5},
             "encoding": {
               "x": {"field": "t", "type": "quantitative"},
               "y": {"field": "v", "type": "quantitative"},
               "color": {"field": "s", "type": "nominal", "scale": {"domain": ["B", "P", "BI", "PI"], "range": ["#000000", "#4f86c6", "#000000", "#4f86c6"]}, "legend": {"title": null, "orient": "none", "legendX": -50, "legendY": 130, "columns": 2, "symbolType": "stroke", "symbolSize": 110, "symbolStrokeWidth": 1.5, "labelFontStyle": "italic", "labelFontSize": 11, "rowPadding": 1, "columnPadding": 6, "labelExpr": "datum.label=='B'?'Bmal1ᶠˡˣ/ᶠˡˣ':datum.label=='BI'?'Bmal1ᶠˡˣ/ᶠˡˣ + IVM':datum.label=='P'?'PdxCre;Bmal1ᶠˡˣ/ᶠˡˣ':'PdxCre;Bmal1ᶠˡˣ/ᶠˡˣ + IVM'"}},
               "strokeDash": {"field": "s", "type": "nominal", "scale": {"domain": ["B", "P", "BI", "PI"], "range": [[4, 3], [4, 3], [1, 0], [1, 0]]}, "legend": {"title": null, "orient": "none", "legendX": -50, "legendY": 130, "columns": 2, "symbolType": "stroke", "symbolSize": 110, "symbolStrokeWidth": 1.5, "labelFontStyle": "italic", "labelFontSize": 11, "rowPadding": 1, "columnPadding": 6, "labelExpr": "datum.label=='B'?'Bmal1ᶠˡˣ/ᶠˡˣ':datum.label=='BI'?'Bmal1ᶠˡˣ/ᶠˡˣ + IVM':datum.label=='P'?'PdxCre;Bmal1ᶠˡˣ/ᶠˡˣ':'PdxCre;Bmal1ᶠˡˣ/ᶠˡˣ + IVM'"}}
             }},
            {"data": {"name": "cStim"}, "mark": {"type": "rule", "color": "#000", "strokeDash": [4, 3], "strokeWidth": 1},
             "encoding": {"x": {"field": "t", "type": "quantitative"}}},
            {"data": {"name": "cStim"}, "mark": {"type": "text", "fontSize": 9, "color": "#333", "baseline": "bottom"},
             "encoding": {"x": {"field": "t", "type": "quantitative"}, "y": {"field": "y", "type": "quantitative"}, "text": {"field": "label"}}}
          ]
        },
        {
          "width": 37, "height": 46,
          "layer": [
            {"data": {"name": "aucBars"}, "mark": {"type": "bar", "strokeWidth": 1},
             "encoding": {
               "x": {"field": "geno", "type": "nominal", "scale": {"domain": ["Bmal1", "PdxCre"], "paddingInner": 0, "paddingOuter": 0}, "axis": {"title": null, "labels": false, "ticks": false}},
               "xOffset": {"field": "trt", "type": "nominal", "scale": {"domain": ["-IVM", "+IVM"], "paddingOuter": 0.67, "paddingInner": 0}},
               "y": {"field": "mean", "type": "quantitative", "scale": {"domain": [0, 500], "nice": false}, "axis": {"values": [0, 500], "title": "AUC", "titleFontSize": 14, "labelFontSize": 12}},
               "fill": {"field": "s", "type": "nominal", "scale": {"domain": ["B", "BI", "P", "PI"], "range": ["#ffffff", "#000000", "#ffffff", "#4f86c6"]}, "legend": null},
               "stroke": {"field": "s", "type": "nominal", "scale": {"domain": ["B", "BI", "P", "PI"], "range": ["#000000", "#000000", "#4f86c6", "#4f86c6"]}, "legend": null}
             }},
            {"data": {"name": "aucBars"}, "mark": {"type": "rule", "color": "#000", "strokeWidth": 1},
             "encoding": {"x": {"field": "geno", "type": "nominal"}, "xOffset": {"field": "trt", "type": "nominal"}, "y": {"field": "mean", "type": "quantitative"}, "y2": {"field": "hi"}}},
            {"data": {"name": "aucBars"}, "mark": {"type": "tick", "color": "#000", "thickness": 1, "size": 4, "orient": "horizontal"},
             "encoding": {"x": {"field": "geno", "type": "nominal"}, "xOffset": {"field": "trt", "type": "nominal"}, "y": {"field": "hi", "type": "quantitative"}}},
            {"data": {"name": "aucSig"}, "mark": {"type": "line", "color": "#000", "strokeWidth": 1},
             "encoding": {"x": {"field": "geno", "type": "nominal"}, "xOffset": {"field": "trt", "type": "nominal"}, "y": {"field": "y", "type": "quantitative"}, "detail": {"field": "id"}, "order": {"field": "ord"}}},
            {"data": {"name": "aucTop"}, "mark": {"type": "line", "color": "#000", "strokeWidth": 1},
             "encoding": {"x": {"field": "geno", "type": "nominal"}, "y": {"field": "y", "type": "quantitative"}, "order": {"field": "ord"}}},
            {"data": {"name": "aucStarMid"}, "mark": {"type": "text", "fontSize": 13, "fontWeight": "bold", "baseline": "alphabetic", "color": "#000"},
             "encoding": {"x": {"field": "geno", "type": "nominal"}, "y": {"field": "y", "type": "quantitative"}, "text": {"field": "label"}}},
            {"data": {"name": "aucStarTop"}, "mark": {"type": "text", "fontSize": 13, "fontWeight": "bold", "baseline": "alphabetic", "color": "#000"},
             "encoding": {"x": {"field": "geno", "type": "nominal", "bandPosition": 1}, "y": {"field": "y", "type": "quantitative"}, "text": {"field": "label"}}}
          ]
        }
      ],
      "spacing": 8,
      "resolve": {"scale": {"fill": "independent", "stroke": "independent", "shape": "independent", "xOffset": "independent", "size": "independent", "opacity": "independent"}}
    }],
    "resolve": {"scale": {"color": "independent", "fill": "independent", "stroke": "independent", "strokeDash": "independent", "shape": "independent", "xOffset": "independent", "size": "independent", "opacity": "independent"}}
   }
  ],
  "spacing": 46,
  "resolve": {"scale": {"color": "independent", "fill": "independent", "stroke": "independent", "strokeDash": "independent", "shape": "independent", "xOffset": "independent", "size": "independent", "opacity": "independent"}}
 },
 {
  "vconcat": [
   {
    "vconcat": [
     {
      "title": {"text": "D", "orient": "left", "anchor": "end", "angle": 0, "align": "left", "baseline": "top", "fontSize": 27, "offset": -8, "dy": 6},
      "vconcat": [{
        "title": {"text": ["IVM rescues insulin secretion", "defect in Cry double mutant islets"], "frame": "group", "dx": -23, "offset": 11},
        "width": 154, "height": 92,
        "layer": [
          {"data": {"name": "dBars"}, "mark": {"type": "bar", "stroke": "#000", "strokeWidth": 1},
           "encoding": {
             "x": {"field": "cond", "type": "nominal", "scale": {"domain": ["2mM gluc", "20mM gluc", "2mM gluc|+ IVM", "20mM gluc|+ IVM"], "paddingInner": 0, "paddingOuter": 0}, "axis": {"title": null, "labelAngle": -45, "labelExpr": "split(datum.label,'|')", "labelLineHeight": 11}},
             "xOffset": {"field": "grp", "type": "nominal", "scale": {"domain": ["Cry1⁺/⁻; Cry2⁺/⁻", "Cry1⁻/⁻; Cry2⁻/⁻"], "paddingOuter": 0.75, "paddingInner": 0}},
             "y": {"field": "mean", "type": "quantitative", "scale": {"domain": [0, 15], "nice": false}, "axis": {"values": [0, 5, 10, 15], "title": ["Insulin secretion", "(% content)"]}},
             "fill": {"field": "grp", "type": "nominal", "scale": {"domain": ["Cry1⁺/⁻; Cry2⁺/⁻", "Cry1⁻/⁻; Cry2⁻/⁻"], "range": ["#ffffff", "#82bb5c"]}, "legend": {"title": null, "symbolType": "square", "symbolStrokeColor": "#000", "symbolStrokeWidth": 1, "symbolSize": 50, "offset": -3, "rowPadding": 1, "labelFontStyle": "italic", "labelFontSize": 9, "labelLimit": 80, "labelOffset": 4}}
           }},
          {"data": {"name": "dBars"}, "mark": {"type": "rule", "color": "#000", "strokeWidth": 1},
           "encoding": {"x": {"field": "cond", "type": "nominal"}, "xOffset": {"field": "grp", "type": "nominal"}, "y": {"field": "mean", "type": "quantitative"}, "y2": {"field": "hi"}}},
          {"data": {"name": "dBars"}, "mark": {"type": "tick", "color": "#000", "thickness": 1, "size": 5, "orient": "horizontal"},
           "encoding": {"x": {"field": "cond", "type": "nominal"}, "xOffset": {"field": "grp", "type": "nominal"}, "y": {"field": "hi", "type": "quantitative"}}},
          {"data": {"name": "dDots"}, "mark": {"type": "point", "filled": true, "size": 10, "color": "#a0a0a0", "opacity": 0.9},
           "encoding": {"x": {"field": "cond", "type": "nominal"}, "xOffset": {"field": "grp", "type": "nominal"}, "y": {"field": "v", "type": "quantitative"}}},
          {"data": {"name": "dSig"}, "mark": {"type": "line", "color": "#000", "strokeWidth": 1},
           "encoding": {"x": {"field": "cond", "type": "nominal"}, "xOffset": {"field": "grp", "type": "nominal"}, "y": {"field": "y", "type": "quantitative"}, "detail": {"field": "id"}, "order": {"field": "ord"}}},
          {"data": {"name": "dStarOff"}, "mark": {"type": "text", "fontSize": 16, "fontWeight": "bold", "baseline": "alphabetic", "color": "#000"},
           "encoding": {"x": {"field": "cond", "type": "nominal"}, "xOffset": {"field": "grp", "type": "nominal"}, "y": {"field": "y", "type": "quantitative"}, "text": {"field": "label"}}},
          {"data": {"name": "dStarMid"}, "mark": {"type": "text", "fontSize": 16, "fontWeight": "bold", "baseline": "alphabetic", "color": "#000"},
           "encoding": {"x": {"field": "cond", "type": "nominal"}, "y": {"field": "y", "type": "quantitative"}, "text": {"field": "label"}}}
        ]
      }],
      "resolve": {"scale": {"color": "independent", "fill": "independent", "stroke": "independent", "strokeDash": "independent", "shape": "independent", "xOffset": "independent", "size": "independent", "opacity": "independent"}}
     },
     {
      "title": {"text": "E", "orient": "left", "anchor": "end", "angle": 0, "align": "left", "baseline": "top", "fontSize": 27, "offset": -8, "dy": 6},
      "vconcat": [{
        "title": {"text": ["IVM restores insulin exocytosis", "in Bmal1 mutant islet β cells"], "frame": "group", "dx": -17, "offset": 24},
        "width": 156, "height": 92,
        "layer": [
          {"data": {"name": "eSeries"}, "mark": {"type": "rule", "color": "#222", "strokeWidth": 1},
           "encoding": {
             "x": {"field": "x", "type": "quantitative", "scale": {"domain": [0, 10], "nice": false}, "axis": {"values": [0, 2, 4, 6, 8, 10], "title": "Depolarization number", "titleFontSize": 14, "titlePadding": 1, "labelFontSize": 12}},
             "y": {"field": "lo", "type": "quantitative", "scale": {"domain": [0, 30], "nice": false}, "axis": {"values": [0, 10, 20, 30], "title": ["Cumulative", "capacitance (fF/PF)"], "labelFontSize": 12}},
             "y2": {"field": "hi"}
           }},
          {"data": {"name": "eSeries"}, "mark": {"type": "tick", "color": "#222", "thickness": 1, "size": 6, "orient": "horizontal"},
           "encoding": {"x": {"field": "x", "type": "quantitative"}, "y": {"field": "hi", "type": "quantitative"}}},
          {"data": {"name": "eSeries"}, "mark": {"type": "tick", "color": "#222", "thickness": 1, "size": 6, "orient": "horizontal"},
           "encoding": {"x": {"field": "x", "type": "quantitative"}, "y": {"field": "lo", "type": "quantitative"}}},
          {"data": {"name": "eSeries"}, "mark": {"type": "line", "strokeWidth": 1.5},
           "encoding": {
             "x": {"field": "x", "type": "quantitative"},
             "y": {"field": "v", "type": "quantitative"},
             "color": {"field": "s", "type": "nominal", "scale": {"domain": ["B", "P", "BI", "PI"], "range": ["#000000", "#4f86c6", "#000000", "#4f86c6"]}, "legend": {"title": null, "orient": "none", "legendX": -45, "legendY": 125, "columns": 2, "symbolType": "stroke", "symbolSize": 100, "symbolStrokeWidth": 1.5, "labelFontStyle": "italic", "labelFontSize": 10, "rowPadding": 0, "columnPadding": 14, "labelExpr": "datum.label=='B'?'Bmal1ᶠˡˣ/ᶠˡˣ':datum.label=='BI'?'Bmal1ᶠˡˣ/ᶠˡˣ + IVM':datum.label=='P'?'PdxCre;Bmal1ᶠˡˣ/ᶠˡˣ':'PdxCre;Bmal1ᶠˡˣ/ᶠˡˣ + IVM'"}},
             "strokeDash": {"field": "s", "type": "nominal", "scale": {"domain": ["B", "P", "BI", "PI"], "range": [[4, 3], [4, 3], [1, 0], [1, 0]]}, "legend": {"title": null, "orient": "none", "legendX": -45, "legendY": 125, "columns": 2, "symbolType": "stroke", "symbolSize": 100, "symbolStrokeWidth": 1.5, "labelFontStyle": "italic", "labelFontSize": 10, "rowPadding": 0, "columnPadding": 14, "labelExpr": "datum.label=='B'?'Bmal1ᶠˡˣ/ᶠˡˣ':datum.label=='BI'?'Bmal1ᶠˡˣ/ᶠˡˣ + IVM':datum.label=='P'?'PdxCre;Bmal1ᶠˡˣ/ᶠˡˣ':'PdxCre;Bmal1ᶠˡˣ/ᶠˡˣ + IVM'"}}
           }},
          {"data": {"name": "eSeries"}, "transform": [{"filter": "datum.s == 'B'"}], "mark": {"type": "point", "shape": "square", "filled": false, "fill": "#fff", "stroke": "#000", "size": 28, "strokeWidth": 1.3, "opacity": 1},
           "encoding": {"x": {"field": "x", "type": "quantitative"}, "y": {"field": "v", "type": "quantitative"}}},
          {"data": {"name": "eSeries"}, "transform": [{"filter": "datum.s == 'BI'"}], "mark": {"type": "point", "shape": "circle", "filled": false, "fill": "#fff", "stroke": "#000", "size": 30, "strokeWidth": 1.3, "opacity": 1},
           "encoding": {"x": {"field": "x", "type": "quantitative"}, "y": {"field": "v", "type": "quantitative"}}},
          {"data": {"name": "eSeries"}, "transform": [{"filter": "datum.s == 'P'"}], "mark": {"type": "point", "shape": "square", "filled": false, "fill": "#fff", "stroke": "#4f86c6", "size": 28, "strokeWidth": 1.3, "opacity": 1},
           "encoding": {"x": {"field": "x", "type": "quantitative"}, "y": {"field": "v", "type": "quantitative"}}},
          {"data": {"name": "eSeries"}, "transform": [{"filter": "datum.s == 'PI'"}], "mark": {"type": "point", "shape": "circle", "filled": true, "color": "#4f86c6", "size": 32, "opacity": 1},
           "encoding": {"x": {"field": "x", "type": "quantitative"}, "y": {"field": "v", "type": "quantitative"}}},
          {"data": {"name": "eSig"}, "mark": {"type": "rule", "color": "#555", "strokeWidth": 1.5},
           "encoding": {"x": {"field": "x1", "type": "quantitative"}, "x2": {"field": "x2"}, "y": {"field": "y", "type": "quantitative"}}},
          {"data": {"name": "eSig"}, "mark": {"type": "text", "fontSize": 15, "fontWeight": "bold", "baseline": "alphabetic", "color": "#000"},
           "encoding": {"x": {"field": "lx", "type": "quantitative"}, "y": {"field": "ly", "type": "quantitative"}, "text": {"field": "label"}}}
        ]
      }],
      "resolve": {"scale": {"color": "independent", "fill": "independent", "stroke": "independent", "strokeDash": "independent", "shape": "independent", "xOffset": "independent", "size": "independent", "opacity": "independent"}}
     }
    ],
    "spacing": 26,
    "resolve": {"scale": {"color": "independent", "fill": "independent", "stroke": "independent", "strokeDash": "independent", "shape": "independent", "xOffset": "independent", "size": "independent", "opacity": "independent"}}
   },
   {
    "title": {"text": "F", "orient": "left", "anchor": "end", "angle": 0, "align": "left", "baseline": "top", "fontSize": 27, "offset": -8, "dy": 6},
    "vconcat": [{
      "title": {"text": ["IVM increases insulin exocytosis", "in human islet β cells"], "frame": "group", "dx": -17, "offset": 29},
      "width": 156, "height": 92,
      "layer": [
        {"data": {"name": "fSeries"}, "mark": {"type": "rule", "color": "#222", "strokeWidth": 1},
         "encoding": {
           "x": {"field": "x", "type": "quantitative", "scale": {"domain": [0, 10], "nice": false}, "axis": {"values": [0, 2, 4, 6, 8, 10], "title": "Depolarization number", "titleFontSize": 14, "titlePadding": 1, "labelFontSize": 12}},
           "y": {"field": "lo", "type": "quantitative", "scale": {"domain": [0, 50], "nice": false}, "axis": {"values": [0, 10, 20, 30, 40, 50], "title": ["Cumulative", "capacitance (fF/PF)"], "labelFontSize": 12}},
           "y2": {"field": "hi"}
         }},
        {"data": {"name": "fSeries"}, "mark": {"type": "tick", "color": "#222", "thickness": 1, "size": 7, "orient": "horizontal"},
         "encoding": {"x": {"field": "x", "type": "quantitative"}, "y": {"field": "hi", "type": "quantitative"}}},
        {"data": {"name": "fSeries"}, "mark": {"type": "tick", "color": "#222", "thickness": 1, "size": 7, "orient": "horizontal"},
         "encoding": {"x": {"field": "x", "type": "quantitative"}, "y": {"field": "lo", "type": "quantitative"}}},
        {"data": {"name": "fSeries"}, "mark": {"type": "line", "strokeWidth": 1.8},
         "encoding": {
           "x": {"field": "x", "type": "quantitative"},
           "y": {"field": "v", "type": "quantitative"},
           "color": {"field": "s", "type": "nominal", "scale": {"domain": ["DMSO", "IVM"], "range": ["#1a1a1a", "#e41e26"]}, "legend": {"title": null, "orient": "none", "legendX": 45, "legendY": 131, "direction": "vertical", "symbolType": "stroke", "symbolSize": 100, "symbolStrokeWidth": 1.5, "rowPadding": 1, "labelFontSize": 12, "labelOffset": 2}}
         }},
        {"data": {"name": "fSeries"}, "mark": {"type": "point", "filled": true, "size": 55, "opacity": 1},
         "encoding": {"x": {"field": "x", "type": "quantitative"}, "y": {"field": "v", "type": "quantitative"}, "color": {"field": "s", "type": "nominal"}}},
        {"data": {"name": "fSig"}, "mark": {"type": "rule", "color": "#222", "strokeWidth": 1.3},
         "encoding": {"x": {"field": "x1", "type": "quantitative"}, "x2": {"field": "x2"}, "y": {"field": "y", "type": "quantitative"}}},
        {"data": {"name": "fSig"}, "mark": {"type": "text", "fontSize": 16, "fontWeight": "bold", "baseline": "alphabetic", "color": "#000"},
         "encoding": {"x": {"field": "lx", "type": "quantitative"}, "y": {"field": "ly", "type": "quantitative"}, "text": {"field": "label"}}}
      ]
    }],
    "resolve": {"scale": {"color": "independent", "fill": "independent", "stroke": "independent", "strokeDash": "independent", "shape": "independent", "xOffset": "independent", "size": "independent", "opacity": "independent"}}
   }
  ],
  "spacing": 43,
  "resolve": {"scale": {"color": "independent", "fill": "independent", "stroke": "independent", "strokeDash": "independent", "shape": "independent", "xOffset": "independent", "size": "independent", "opacity": "independent"}}
 }
],
"spacing": 9,
"resolve": {"scale": {"color": "independent", "fill": "independent", "stroke": "independent", "strokeDash": "independent", "shape": "independent", "xOffset": "independent", "size": "independent", "opacity": "independent"}}
}
